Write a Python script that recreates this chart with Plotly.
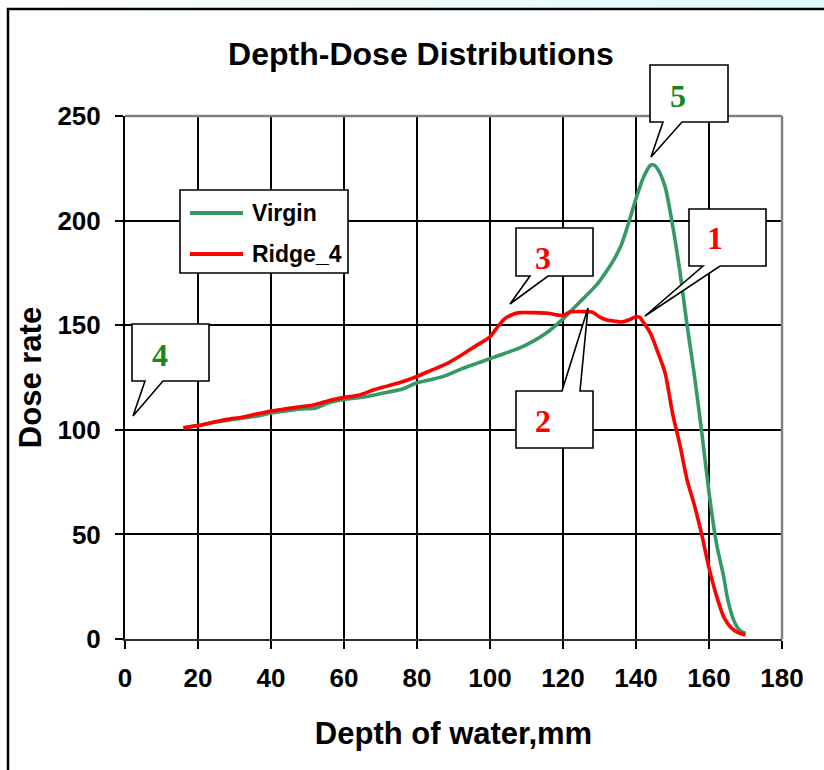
import plotly.graph_objects as go

# Depth (mm) and dose readings for the two beam set-ups
depth_virgin = [16, 20, 24, 28, 32, 36, 40, 44, 48, 52, 56, 60, 64, 68, 72, 76, 80, 84,
                88, 92, 96, 100, 104, 108, 112, 116, 120, 122, 124, 126, 128, 130,
                132, 134, 136, 138, 140, 142, 144, 145, 146, 148, 150, 152, 154, 156,
                158, 160, 162, 164, 165, 166, 167, 168, 169, 170]
dose_virgin = [101, 102, 103.5, 104.5, 105.5, 106.5, 108, 109, 110, 110.3, 113, 114.5,
               115.3, 116.5, 118, 119.5, 122.5, 124, 126, 129, 131.5, 134, 136.5, 139,
               142.5, 147, 153, 156.5, 160, 163.5, 167, 171, 176, 181.5, 188.5,
               199, 210.5, 220.5, 226.5, 226.5, 224.5, 216, 198, 176, 150, 126, 99, 70, 46,
               30, 20, 13, 8, 5, 3.5, 2.7]

depth_ridge = [16, 20, 24, 28, 32, 36, 40, 44, 48, 52, 56, 60, 64, 68, 72, 76, 80, 84,
               88, 92, 96, 100, 102, 104, 106, 108, 112, 116, 118, 120, 122, 126, 128,
               130, 132, 134, 136, 138, 140, 141, 142, 144, 146, 148, 150, 152, 154,
               156, 158, 160, 162, 164, 166, 168, 170]
dose_ridge = [101, 102, 103.5, 105, 106, 107.5, 109, 110, 111, 112, 114, 115.5, 116.5,
              119, 121, 123, 125.5, 128.5, 131.5, 135.5, 140, 144.5, 149, 153, 155, 156,
              156, 155.7, 155, 154.7, 156.3, 156.5, 156.3, 154, 152.5, 152, 151.5, 152.5,
              154, 153.8, 151.5, 146, 137, 127, 108, 93, 76, 64, 50, 34, 21, 10.7, 5.5,
              3, 1.9]

series_names = ["Virgin", "Ridge_4"]
series_colors = ["#339966", "#ff0000"]

x_ticks = list(range(0, 181, 20))
y_ticks = list(range(0, 251, 50))

chart_title = "Depth-Dose Distributions"
x_title = "Depth of water,mm"
y_title = "Dose rate"

# Figure geometry (pixels)
W, H = 824, 770
ML, MR, MT, MB = 125, 42, 116, 131
PW, PH = W - ML - MR, H - MT - MB


def px(x):
    return (x - ML) / PW


def py(y):
    return (H - MB - y) / PH


SANS = "Liberation Sans, Arial, sans-serif"
SERIF = "Liberation Serif, Times New Roman, serif"

fig = go.Figure()
for xs, ys, name, color in [(depth_virgin, dose_virgin, series_names[0], series_colors[0]),
                            (depth_ridge, dose_ridge, series_names[1], series_colors[1])]:
    fig.add_trace(go.Scatter(x=xs, y=ys, mode="lines", name=name,
                             line=dict(color=color, width=3.6, shape="spline", smoothing=0.7),
                             showlegend=False, hoverinfo="x+y+name"))

shapes = []

# light band along the very top of the page
n_steps = 40
for i in range(n_steps):
    t = i / (n_steps - 1)
    r = int(255 + (222 - 255) * t)
    g = int(255 + (250 - 255) * t)
    b = int(255 + (250 - 255) * t)
    shapes.append(dict(type="rect", xref="paper", yref="paper",
                       x0=px(W * i / n_steps), x1=px(W * (i + 1) / n_steps + 1),
                       y0=py(8), y1=py(0), line=dict(width=0),
                       fillcolor=f"rgb({r},{g},{b})", layer="below"))

# outer chart frame
shapes.append(dict(type="rect", xref="paper", yref="paper",
                   x0=px(8), x1=px(W + 20), y0=py(H + 20), y1=py(9),
                   line=dict(color="black", width=2.5), fillcolor="rgba(0,0,0,0)", layer="below"))

# grey top and right border of the plot area
shapes.append(dict(type="line", xref="paper", yref="paper", x0=0, x1=1, y0=1, y1=1,
                   line=dict(color="#808080", width=2.5)))
shapes.append(dict(type="line", xref="paper", yref="paper", x0=1, x1=1, y0=0, y1=1,
                   line=dict(color="#808080", width=2.5)))

# callout boxes: (left, top, right, bottom), wedge base x1, x2, tip, side, label, colour, label pos
callouts = [
    ((650, 65, 728, 122), (663, 682), (651, 157), "bottom", "5", "#17891b", (678, 96)),
    ((689, 209, 766, 266), (703, 720), (645, 316), "bottom", "1", "#ff0000", (715, 238)),
    ((516, 228, 593, 276), (530, 548), (510, 304), "bottom", "3", "#ff0000", (543, 258)),
    ((516, 391, 593, 448), (562, 580), (588, 308), "top", "2", "#ff0000", (543, 421)),
    ((132, 324, 209, 381), (145, 163), (133, 416), "bottom", "4", "#17891b", (160, 355)),
]

annotations = []
for (l, t, r, b), (w1, w2), (tx, ty), side, label, color, (lx, ly) in callouts:
    if side == "bottom":
        pts = [(l, t), (r, t), (r, b), (w2, b), (tx, ty), (w1, b), (l, b)]
    else:
        pts = [(l, t), (w1, t), (tx, ty), (w2, t), (r, t), (r, b), (l, b)]
    path = "M" + " L".join(f"{px(a):.5f},{py(c):.5f}" for a, c in pts) + " Z"
    shapes.append(dict(type="path", xref="paper", yref="paper", path=path,
                       fillcolor="white", line=dict(color="black", width=1.6)))
    annotations.append(dict(text=label, xref="paper", yref="paper", x=px(lx), y=py(ly),
                            showarrow=False, xanchor="center", yanchor="middle",
                            font=dict(family=SERIF, size=32, color=color, weight="bold")))

# legend box
shapes.append(dict(type="rect", xref="paper", yref="paper",
                   x0=px(180), x1=px(348), y0=py(273), y1=py(190),
                   fillcolor="white", line=dict(color="black", width=1.6)))
for i, (name, color) in enumerate(zip(series_names, series_colors)):
    yy = 213 + 41 * i
    shapes.append(dict(type="line", xref="paper", yref="paper",
                       x0=px(190), x1=px(243), y0=py(yy), y1=py(yy),
                       line=dict(color=color, width=4)))
    annotations.append(dict(text=name, xref="paper", yref="paper", x=px(250), y=py(yy),
                            showarrow=False, xanchor="left", yanchor="middle",
                            font=dict(family=SANS, size=23, color="black", weight="bold")))

fig.update_layout(
    width=W, height=H,
    margin=dict(l=ML, r=MR, t=MT, b=MB),
    paper_bgcolor="white", plot_bgcolor="white",
    title=dict(text=chart_title, xref="container", yref="container",
               x=421 / W, y=1 - 54 / H, xanchor="center", yanchor="middle",
               font=dict(family=SANS, size=32, color="black", weight="bold")),
    shapes=shapes, annotations=annotations,
    showlegend=False,
    xaxis=dict(range=[0, 180], tickvals=x_ticks, ticks="outside", ticklen=8,
               tickwidth=1.5, tickcolor="black", showgrid=True, gridcolor="black",
               gridwidth=1.5, showline=True, linecolor="#303030", linewidth=2,
               zeroline=False, fixedrange=True, ticklabelstandoff=7,
               tickfont=dict(family=SANS, size=26, color="black", weight="bold"),
               title=dict(text=x_title, standoff=30,
                          font=dict(family=SANS, size=31, color="black", weight="bold"))),
    yaxis=dict(range=[0, 250], tickvals=y_ticks, ticks="outside", ticklen=8,
               tickwidth=1.5, tickcolor="black", showgrid=True, gridcolor="black",
               gridwidth=1.5, showline=True, linecolor="black", linewidth=2,
               zeroline=False, fixedrange=True, ticklabelstandoff=9,
               tickfont=dict(family=SANS, size=26, color="black", weight="bold"),
               title=dict(text=y_title, standoff=7,
                          font=dict(family=SANS, size=31, color="black", weight="bold"))),
)

fig.write_html("out.html")
